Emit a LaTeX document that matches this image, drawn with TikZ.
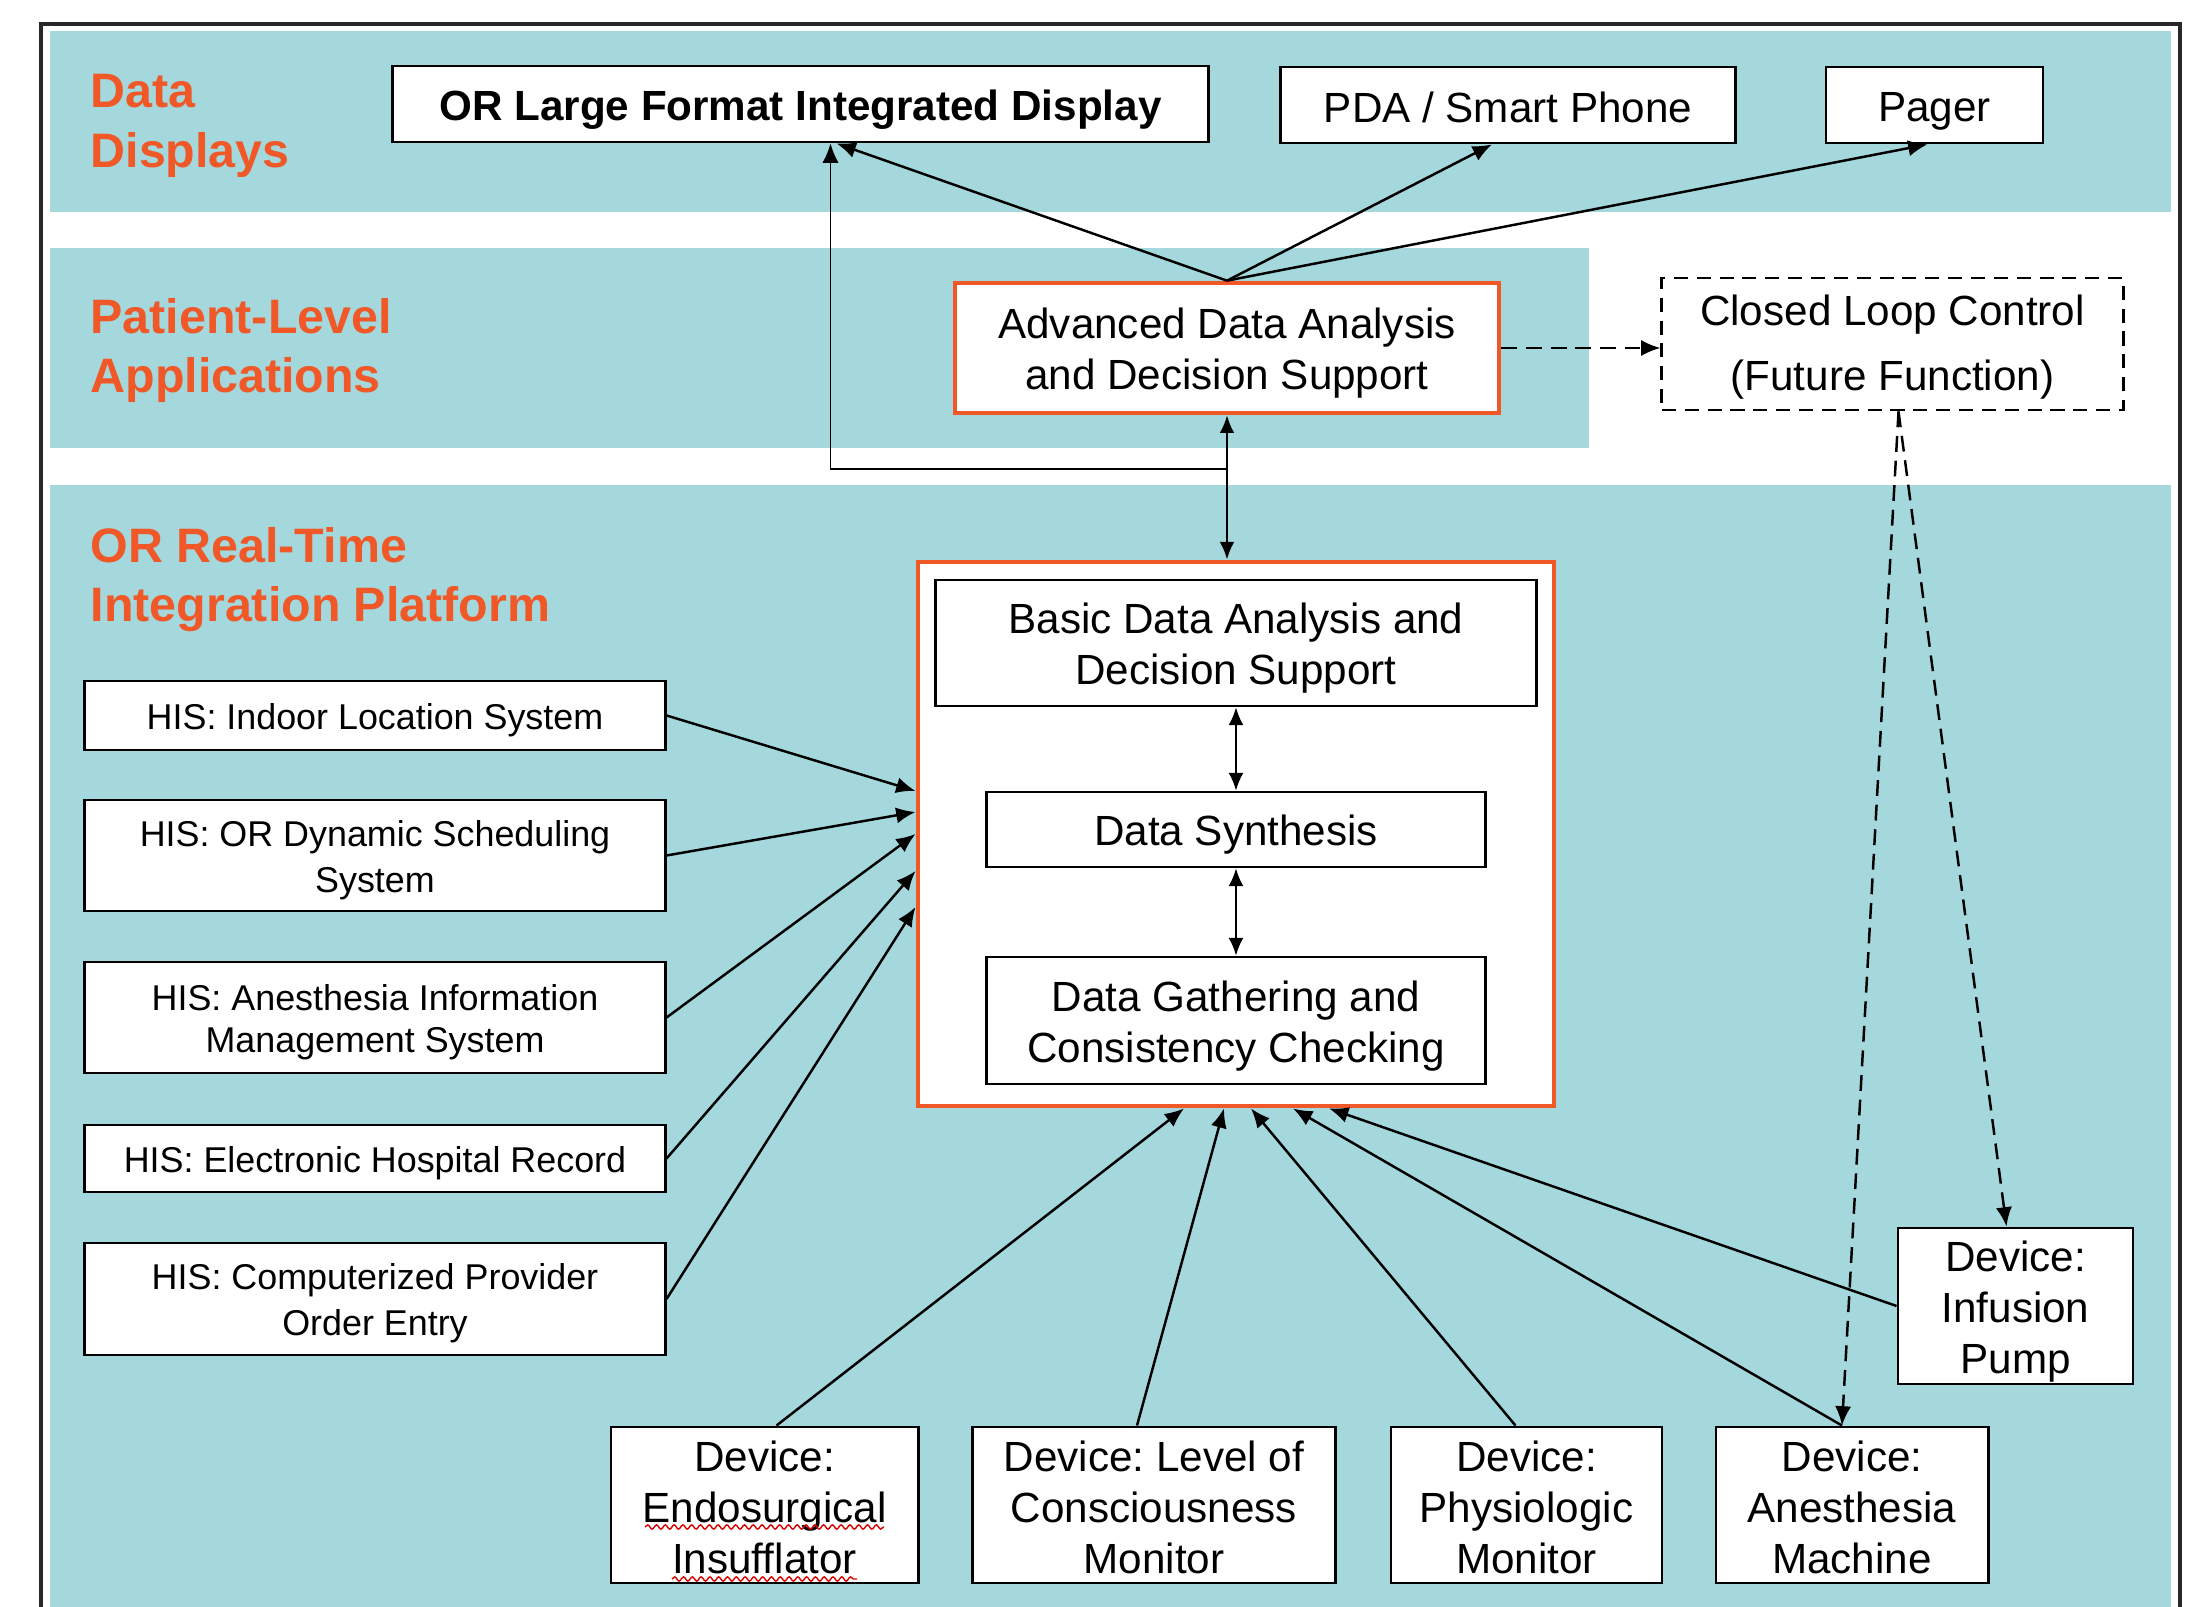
\documentclass[tikz,border=0pt]{standalone}
\usepackage{fontspec}
\setmainfont{Liberation Sans}
\usetikzlibrary{arrows.meta,calc,decorations.pathmorphing}
\definecolor{bandteal}{RGB}{164,216,220}
\definecolor{orred}{RGB}{240,88,40}
\definecolor{frameg}{RGB}{40,40,40}
\newcommand\pstrut{\rule[-0.14em]{0pt}{1.117em}}
\newcommand\cstrut{\rule[-0.22em]{0pt}{1.117em}}
\begin{document}
\frenchspacing
\begin{tikzpicture}[x=0.01cm,y=-0.01cm,
  box/.style={draw=black,line width=0.8pt,fill=white,inner sep=0pt,align=center,font=\fontsize{12}{14.5}\selectfont},
  hisbox/.style={box,font=\fontsize{10.2}{12}\selectfont},
  arr/.style={-{Latex[length=5.5pt,width=4.6pt]},line width=0.7pt},
  darr/.style={{Latex[length=5pt,width=4.2pt]}-{Latex[length=5pt,width=4.2pt]},line width=0.7pt},
  dasharr/.style={arr,dash pattern=on 4.5pt off 2.5pt},
  lbl/.style={text=orred,font=\fontsize{13.75}{16.8}\selectfont\bfseries,align=left,anchor=north west,inner sep=0pt},
  squig/.style={red!85!black,line width=0.4pt,decorate,decoration={snake,amplitude=0.6pt,segment length=2.5pt}}
]
\useasboundingbox (0,0) rectangle (2208,1607);
\clip (0,0) rectangle (2208,1607);
\fill[white] (0,0) rectangle (2208,1607);
% bands
\fill[bandteal] (50,31) rectangle (2171,212);
\fill[bandteal] (50,248) rectangle (1589,448);
\fill[bandteal] (50,485) rectangle (2171,1620);
\draw[frameg,line width=0.9pt] (41,1620) -- (41,24) -- (2180,24) -- (2180,1620);
% labels
\node[lbl] (lab1) at (90,74) {Data\\Displays};
\node[lbl] (lab2) at (90,298) {Patient-Level\\Applications};
\node[lbl] (lab3) at (90,527) {OR Real-Time\\Integration Platform};
% top displays
\node[box,font=\fontsize{12}{14.5}\selectfont\bfseries,minimum width=8.15cm,minimum height=0.76cm] (ordisp) at (800.5,104) {\pstrut OR Large Format Integrated Display};
\node[box,minimum width=4.54cm,minimum height=0.76cm] (pda) at (1508,105) {\pstrut PDA / Smart Phone};
\node[box,minimum width=2.17cm,minimum height=0.76cm] (pager) at (1934.5,105) {\pstrut Pager};
% patient level
\node[box,draw=orred,line width=1.3pt,minimum width=5.44cm,minimum height=1.30cm] (adv) at (1227,348) {\pstrut Advanced Data Analysis\\and Decision Support\pstrut};
\node[box,dash pattern=on 4pt off 2.5pt,font=\fontsize{12}{18.4}\selectfont,minimum width=4.61cm,minimum height=1.32cm] (closed) at (1892.5,344) {\cstrut Closed Loop Control\\(Future Function)\cstrut};
% platform
\node[draw=orred,line width=1.3pt,fill=white,minimum width=6.36cm,minimum height=5.44cm,inner sep=0pt] (platform) at (1236,834) {};
\node[box,minimum width=6.00cm,minimum height=1.26cm] (basic) at (1236,643) {\pstrut Basic Data Analysis and\\Decision Support\pstrut};
\node[box,minimum width=4.98cm,minimum height=0.75cm] (synth) at (1236,829.5) {\pstrut Data Synthesis};
\node[box,minimum width=4.98cm,minimum height=1.27cm] (gather) at (1236,1020.5) {\pstrut Data Gathering and\\Consistency Checking\pstrut};
% HIS
\node[hisbox,minimum width=5.80cm,minimum height=0.69cm] (his1) at (375,715.5) {\pstrut HIS: Indoor Location System};
\node[hisbox,minimum width=5.80cm,minimum height=1.11cm] (his2) at (375,855.5) {\pstrut HIS: OR Dynamic Scheduling\\System\pstrut};
\node[hisbox,minimum width=5.80cm,minimum height=1.11cm] (his3) at (375,1017.5) {\pstrut HIS: Anesthesia Information\\Management System\pstrut};
\node[hisbox,minimum width=5.80cm,minimum height=0.67cm] (his4) at (375,1158.5) {\pstrut HIS: Electronic Hospital Record};
\node[hisbox,minimum width=5.80cm,minimum height=1.12cm] (his5) at (375,1299) {\pstrut HIS: Computerized Provider\\Order Entry\pstrut};
% devices
\node[box,minimum width=3.07cm,minimum height=1.56cm] (endo) at (764.5,1505) {\pstrut Device:\\Endosurgical\\Insufflator\pstrut};
\node[box,minimum width=3.62cm,minimum height=1.56cm] (loc) at (1154,1505) {\pstrut Device: Level of\\Consciousness\\Monitor\pstrut};
\node[box,minimum width=2.71cm,minimum height=1.56cm] (phys) at (1526.5,1505) {\pstrut Device:\\Physiologic\\Monitor\pstrut};
\node[box,minimum width=2.72cm,minimum height=1.56cm] (anes) at (1852,1505) {\pstrut Device:\\Anesthesia\\Machine\pstrut};
\node[box,minimum width=2.35cm,minimum height=1.56cm] (infusion) at (2015.5,1306) {\pstrut Device:\\Infusion\\Pump\pstrut};
\draw[squig] (645,1527) -- (884,1527);
\draw[squig] (672,1579) -- (857,1579);
% connectors: top
\draw[darr] (adv.south) -- (adv.south |- platform.north);
\coordinate (branch) at ($(adv.south)+(0,54)$);
\draw[arr,line width=0.5pt] (branch) -| ($(ordisp.south)+(30,0)$);
\draw[arr] (adv.north) -- ($(ordisp.south)+(36,0)$);
\draw[arr] (adv.north) -- ($(pda.south)+(-16,0)$);
\draw[arr] (adv.north) -- ($(pager.south)+(-7,0)$);
\draw[dasharr] (adv.east) -- (adv.east -| closed.west);
\coordinate (cl) at ($(closed.south)+(6,0)$);
\draw[dasharr] (cl) -- ($(infusion.north)+(-9,0)$);
\draw[dasharr] (cl) -- ($(anes.north)+(-10,0)$);
% inside platform
\draw[darr,line width=0.5pt] (basic.south) -- (synth.north);
\draw[darr,line width=0.5pt] (synth.south) -- (gather.north);
% HIS arrows
\draw[arr] (his1.east) -- ($(platform.west)+(0,-43)$);
\draw[arr] (his2.east) -- ($(platform.west)+(0,-22)$);
\draw[arr] (his3.east) -- ($(platform.west)+(0,0)$);
\draw[arr] (his4.east) -- ($(platform.west)+(0,37)$);
\draw[arr] (his5.east) -- ($(platform.west)+(0,73)$);
% device arrows
\draw[arr] ($(endo.north)+(12,0)$) -- ($(platform.south)+(-52,0)$);
\draw[arr] ($(loc.north)+(-17,0)$) -- ($(platform.south)+(-12,0)$);
\draw[arr] ($(phys.north)+(-11,0)$) -- ($(platform.south)+(15,0)$);
\draw[arr] ($(anes.north)+(-10,0)$) -- ($(platform.south)+(57,0)$);
\draw[arr] (infusion.west) -- ($(platform.south)+(93,0)$);
\end{tikzpicture}
\end{document}
